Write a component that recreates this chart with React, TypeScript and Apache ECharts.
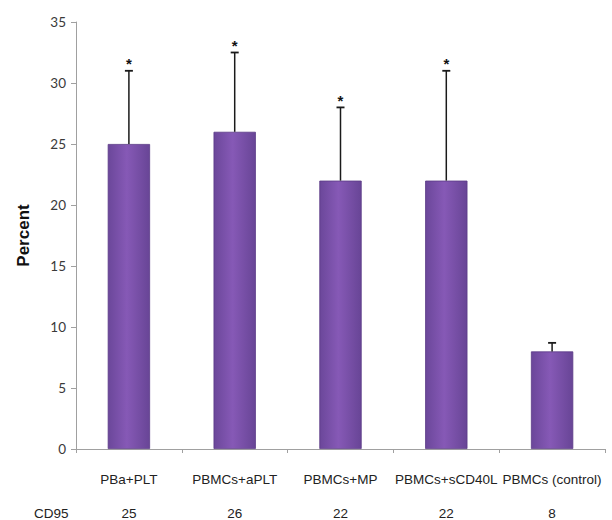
import React, { useEffect, useRef } from "react";
import * as echarts from "echarts";

const categories = ["PBa+PLT", "PBMCs+aPLT", "PBMCs+MP", "PBMCs+sCD40L", "PBMCs (control)"];
const percentValues = [25, 26, 22, 22, 8];
const errorUpper = [31, 32.5, 28, 31, 8.7];
const significant = [true, true, true, true, false];
const cd95Values = ["25", "26", "22", "22", "8"];
const yTicks = [0, 5, 10, 15, 20, 25, 30, 35];

export default function App() {
  const ref = useRef<HTMLDivElement>(null);
  useEffect(() => {
    if (!ref.current) return;
    const chart = echarts.init(ref.current, undefined, { renderer: "svg" });
    const barColor = new echarts.graphic.LinearGradient(0, 0, 1, 0, [
      { offset: 0, color: "#6b479a" },
      { offset: 0.45, color: "#8659b6" },
      { offset: 1, color: "#684596" },
    ]);
    chart.setOption({
      animation: false,
      backgroundColor: "#ffffff",
      grid: { left: 76, right: 7, top: 22, bottom: 70, containLabel: false },
      xAxis: [
        {
          type: "category",
          data: categories,
          axisLine: { lineStyle: { color: "#a0a0a0", width: 1 } },
          axisTick: { show: true, length: 4, lineStyle: { color: "#a0a0a0" } },
          axisLabel: {
            interval: 0,
            margin: 23,
            color: "#222",
            fontFamily: "Liberation Sans, Arial, sans-serif",
            fontSize: 13.5,
          },
        },
        {
          type: "category",
          data: cd95Values,
          position: "bottom",
          offset: 33,
          axisLine: { show: false },
          axisTick: { show: false },
          axisLabel: {
            interval: 0,
            margin: 24,
            color: "#222",
            fontFamily: "Liberation Sans, Arial, sans-serif",
            fontSize: 13.5,
          },
        },
      ],
      yAxis: {
        type: "value",
        min: yTicks[0],
        max: yTicks[yTicks.length - 1],
        interval: 5,
        name: "Percent",
        nameLocation: "middle",
        nameGap: 44,
        nameTextStyle: {
          fontFamily: "Liberation Sans, Arial, sans-serif",
          fontWeight: "bold",
          fontSize: 17,
          color: "#111",
        },
        axisLine: { show: true, lineStyle: { color: "#a0a0a0" } },
        axisTick: { show: true, length: 5, lineStyle: { color: "#a0a0a0" } },
        splitLine: { show: false },
        axisLabel: {
          margin: 10,
          color: "#3a3a3a",
          fontFamily: "Lato, Open Sans, sans-serif",
          fontSize: 13.5,
        },
      },
      graphic: [
        {
          type: "text",
          left: 34,
          top: 506,
          style: {
            text: "CD95",
            fill: "#222",
            font: "13.5px Liberation Sans, Arial, sans-serif",
          },
        },
      ],
      series: [
        {
          type: "bar",
          data: percentValues,
          barWidth: "40%",
          itemStyle: { color: barColor, borderColor: "#5a3a86", borderWidth: 0.8 },
          z: 2,
        },
        {
          type: "custom",
          data: percentValues.map((v, i) => [i, v, errorUpper[i], significant[i] ? 1 : 0]),
          z: 5,
          renderItem: (params: any, api: any) => {
            const idx = api.value(0);
            const base = api.coord([idx, api.value(1)]);
            const top = api.coord([idx, api.value(2)]);
            const sig = api.value(3);
            const children: any[] = [
              {
                type: "line",
                shape: { x1: base[0], y1: base[1], x2: top[0], y2: top[1] },
                style: { stroke: "#1a1a1a", lineWidth: 1.5 },
              },
              {
                type: "line",
                shape: { x1: top[0] - 4, y1: top[1], x2: top[0] + 4, y2: top[1] },
                style: { stroke: "#1a1a1a", lineWidth: 1.8 },
              },
            ];
            if (sig) {
              children.push({
                type: "text",
                style: {
                  text: "*",
                  x: top[0],
                  y: top[1] - 7,
                  align: "center",
                  verticalAlign: "middle",
                  fill: "#111",
                  font: "bold 15px Liberation Sans, Arial, sans-serif",
                },
              });
            }
            return { type: "group", children };
          },
        },
      ],
    });
    return () => chart.dispose();
  }, []);
  return (
    <div
      ref={ref}
      style={{ position: "fixed", left: 0, top: 0, width: 612, height: 520 }}
    />
  );
}
